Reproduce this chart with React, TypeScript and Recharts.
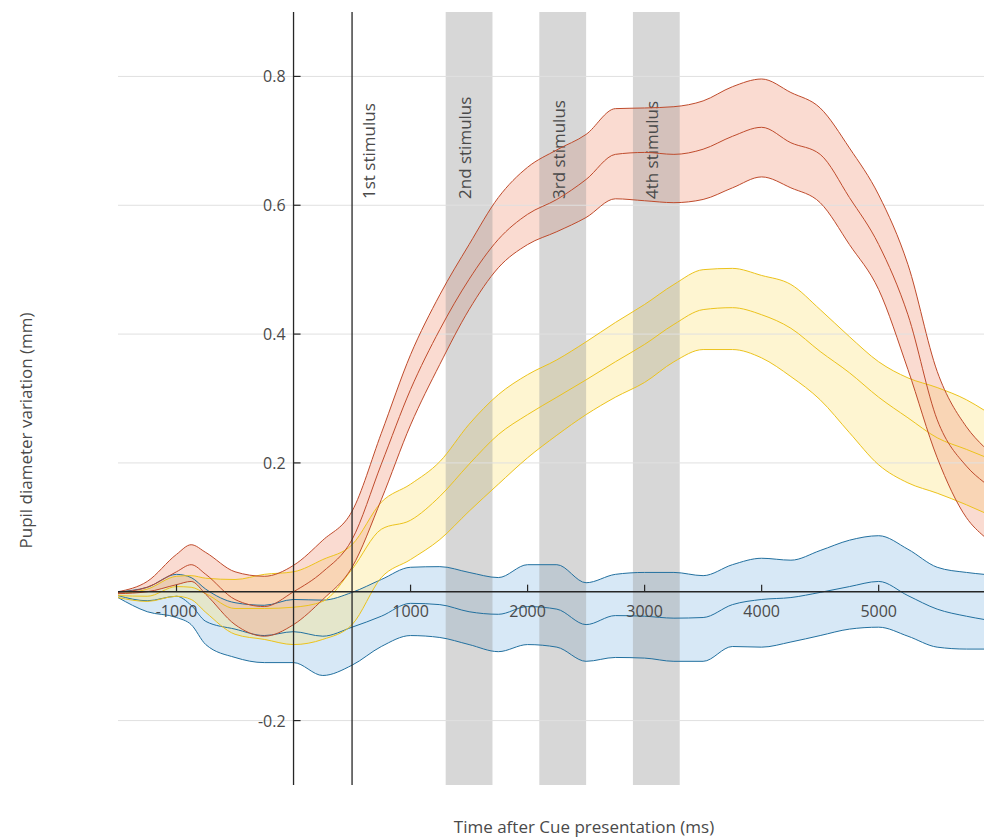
import React from 'react';
import {
  ComposedChart,
  Area,
  Line,
  XAxis,
  YAxis,
  ReferenceLine,
  ReferenceArea,
} from 'recharts';

// ---- data (ms after cue, pupil diameter variation in mm) ----
const timesMs = [
  -1500, -1250, -1000, -875, -750, -500, -250, 0, 250, 500, 750, 1000, 1250, 1500, 1750, 2000,
  2250, 2500, 2750, 3000, 3250, 3500, 3750, 4000, 4250, 4500, 4750, 5000, 5250, 5500, 5750, 5900,
];

const redUpper = [
  0.0, 0.016, 0.058, 0.073, 0.061, 0.031, 0.024, 0.041, 0.08, 0.125, 0.246, 0.368, 0.461, 0.539,
  0.612, 0.659, 0.686, 0.71, 0.75, 0.751, 0.753, 0.762, 0.784, 0.796, 0.775, 0.751, 0.689, 0.616,
  0.508, 0.342, 0.256, 0.225,
];
const redMean = [
  -0.001, 0.007, 0.031, 0.042, 0.027, -0.012, -0.023, 0.0, 0.031, 0.081, 0.198, 0.314, 0.407,
  0.485, 0.547, 0.586, 0.609, 0.64, 0.679, 0.682, 0.679, 0.687, 0.707, 0.721, 0.697, 0.679, 0.612,
  0.539, 0.43, 0.267, 0.195, 0.17,
];
const redLower = [
  -0.003, 0.0, 0.011, 0.016, -0.004, -0.051, -0.069, -0.051, -0.012, 0.038, 0.143, 0.259, 0.353,
  0.438, 0.503, 0.539, 0.559, 0.581, 0.61, 0.607, 0.604, 0.609, 0.627, 0.644, 0.627, 0.604, 0.539,
  0.469, 0.345, 0.208, 0.115, 0.086,
];

const yellowUpper = [
  -0.003, 0.004, 0.024, 0.025, 0.021, 0.019, 0.027, 0.031, 0.05, 0.073, 0.139, 0.167, 0.202,
  0.26, 0.306, 0.337, 0.36, 0.388, 0.418, 0.446, 0.477, 0.5, 0.502, 0.491, 0.477, 0.438, 0.396,
  0.357, 0.332, 0.317, 0.298, 0.282,
];
const yellowMean = [
  -0.006, -0.007, 0.008, 0.007, -0.003, -0.026, -0.026, -0.024, -0.015, 0.035, 0.097, 0.111,
  0.148, 0.198, 0.244, 0.275, 0.302, 0.329, 0.357, 0.384, 0.415, 0.438, 0.441, 0.43, 0.409, 0.373,
  0.34, 0.302, 0.27, 0.239, 0.221, 0.21,
];
const yellowLower = [
  -0.009, -0.015, -0.007, -0.012, -0.032, -0.066, -0.074, -0.082, -0.074, -0.051, 0.022, 0.05,
  0.081, 0.125, 0.167, 0.208, 0.243, 0.275, 0.302, 0.325, 0.357, 0.376, 0.376, 0.363, 0.334, 0.298,
  0.247, 0.197, 0.169, 0.153, 0.135, 0.123,
];

const blueUpper = [
  0.0, 0.007, 0.027, 0.022, 0.004, -0.017, -0.021, -0.012, -0.013, -0.001, 0.019, 0.038, 0.039,
  0.03, 0.022, 0.042, 0.042, 0.014, 0.027, 0.03, 0.03, 0.025, 0.042, 0.052, 0.049, 0.064, 0.08,
  0.087, 0.066, 0.038, 0.03, 0.027,
];
const blueMean = [
  -0.006, -0.014, -0.007, -0.021, -0.046, -0.058, -0.068, -0.062, -0.069, -0.055, -0.038, -0.018,
  -0.02, -0.031, -0.035, -0.023, -0.027, -0.051, -0.037, -0.038, -0.041, -0.04, -0.02, -0.012,
  -0.009, -0.001, 0.008, 0.016, -0.006, -0.027, -0.038, -0.043,
];
const blueLower = [
  -0.009, -0.031, -0.04, -0.051, -0.082, -0.102, -0.11, -0.11, -0.13, -0.114, -0.085, -0.068,
  -0.071, -0.082, -0.093, -0.082, -0.086, -0.108, -0.102, -0.103, -0.108, -0.108, -0.085, -0.086,
  -0.078, -0.068, -0.058, -0.055, -0.069, -0.086, -0.089, -0.089,
];

const xTickValues = [-1000, 1000, 2000, 3000, 4000, 5000];
const xTickLabels = ['-1000', '1000', '2000', '3000', '4000', '5000'];
const yTickValues = [-0.2, 0.2, 0.4, 0.6, 0.8];
const yTickLabels = ['-0.2', '0.2', '0.4', '0.6', '0.8'];

const firstStimulusMs = 500;
const firstStimulusLabel = '1st stimulus';
const bandStarts = [1300, 2100, 2900];
const bandEnds = [1700, 2500, 3300];
const bandLabels = ['2nd stimulus', '3rd stimulus', '4th stimulus'];

const xDomain = [-1500, 5900];
const yDomain = [-0.3, 0.9];
const xTitle = 'Time after Cue presentation (ms)';
const yTitle = 'Pupil diameter variation (mm)';

// ---- table for the library ----
const data = timesMs.map((t, i) => ({
  t,
  redRange: [redLower[i], redUpper[i]],
  yellowRange: [yellowLower[i], yellowUpper[i]],
  blueRange: [blueLower[i], blueUpper[i]],
  redUpper: redUpper[i],
  redMean: redMean[i],
  redLower: redLower[i],
  yellowUpper: yellowUpper[i],
  yellowMean: yellowMean[i],
  yellowLower: yellowLower[i],
  blueUpper: blueUpper[i],
  blueMean: blueMean[i],
  blueLower: blueLower[i],
}));

const FONT = "'Open Sans', 'Noto Sans', sans-serif";
const TEXT = '#4a4a4a';
const AXIS = '#262626';

const RED_LINE = '#bf4b2c';
const RED_FILL = '#f2a68d';
const YEL_LINE = '#ecc31c';
const YEL_FILL = '#fbe27a';
const BLUE_LINE = '#22709f';
const BLUE_FILL = '#9cc5e8';

const xTickLabel = (text: string) => (props: any) => {
  const vb = props.viewBox || {};
  const cx = vb.x + (vb.width || 0) / 2;
  const bottom = vb.y + (vb.height || 0);
  return (
    <text
      x={cx}
      y={bottom + 19}
      textAnchor="middle"
      dominantBaseline="central"
      style={{ fontFamily: FONT, fontSize: 16, fill: TEXT }}
    >
      {text}
    </text>
  );
};

const yTickLabel = (text: string) => (props: any) => {
  const vb = props.viewBox || {};
  return (
    <text
      x={vb.x - 8}
      y={vb.y}
      textAnchor="end"
      dominantBaseline="central"
      style={{ fontFamily: FONT, fontSize: 16, fill: TEXT }}
    >
      {text}
    </text>
  );
};

const stimulusLabel = (text: string, dx: number) => (props: any) => {
  const vb = props.viewBox || {};
  const x = vb.x + dx;
  const y = vb.y + 187;
  return (
    <text
      transform={`translate(${x}, ${y}) rotate(-90)`}
      textAnchor="start"
      dominantBaseline="central"
      style={{ fontFamily: FONT, fontSize: 17, fill: TEXT }}
    >
      {text}
    </text>
  );
};

const xTitleLabel = (props: any) => {
  const vb = props.viewBox || {};
  return (
    <text
      x={vb.x + 466}
      y={vb.y + 41}
      textAnchor="middle"
      dominantBaseline="central"
      style={{ fontFamily: FONT, fontSize: 17, fill: TEXT }}
    >
      {xTitle}
    </text>
  );
};

const yTitleLabel = (props: any) => {
  const vb = props.viewBox || {};
  const x = vb.x + 25;
  const y = vb.y + vb.height / 2 + 32;
  return (
    <text
      transform={`translate(${x}, ${y}) rotate(-90)`}
      textAnchor="middle"
      dominantBaseline="central"
      style={{ fontFamily: FONT, fontSize: 17, fill: TEXT }}
    >
      {yTitle}
    </text>
  );
};

const lineProps = {
  type: 'monotone' as const,
  strokeWidth: 1,
  dot: false,
  activeDot: false,
  isAnimationActive: false,
};

const fillProps = {
  type: 'monotone' as const,
  stroke: 'none',
  activeDot: false,
  isAnimationActive: false,
};

export default function App() {
  return (
    <div style={{ position: 'absolute', left: 0, top: 0, width: 984, height: 839, background: '#fff' }}>
      <ComposedChart
        width={984}
        height={839}
        data={data}
        margin={{ top: 12, right: 0, bottom: 0, left: 0 }}
      >
        <XAxis
          dataKey="t"
          type="number"
          domain={xDomain}
          allowDataOverflow
          height={54}
          tick={false}
          tickLine={false}
          axisLine={false}
          label={xTitleLabel}
        />
        <YAxis
          type="number"
          domain={yDomain}
          ticks={yTickValues}
          allowDataOverflow
          width={118}
          tick={false}
          tickLine={false}
          axisLine={false}
          label={yTitleLabel}
        />

        {yTickValues.map((v, i) => (
          <ReferenceLine key={`grid-${i}`} y={v} stroke="#e0e0e0" strokeWidth={1} />
        ))}

        <Area dataKey="blueRange" fill={BLUE_FILL} fillOpacity={0.4} {...fillProps} />
        <Area dataKey="yellowRange" fill={YEL_FILL} fillOpacity={0.35} {...fillProps} />
        <Area dataKey="redRange" fill={RED_FILL} fillOpacity={0.4} {...fillProps} />

        <Line dataKey="blueUpper" stroke={BLUE_LINE} {...lineProps} />
        <Line dataKey="blueMean" stroke={BLUE_LINE} {...lineProps} />
        <Line dataKey="blueLower" stroke={BLUE_LINE} {...lineProps} />
        <Line dataKey="yellowUpper" stroke={YEL_LINE} {...lineProps} />
        <Line dataKey="yellowMean" stroke={YEL_LINE} {...lineProps} />
        <Line dataKey="yellowLower" stroke={YEL_LINE} {...lineProps} />
        <Line dataKey="redUpper" stroke={RED_LINE} {...lineProps} />
        <Line dataKey="redMean" stroke={RED_LINE} {...lineProps} />
        <Line dataKey="redLower" stroke={RED_LINE} {...lineProps} />

        {bandStarts.map((s, i) => (
          <ReferenceArea
            key={`band-${i}`}
            x1={s}
            x2={bandEnds[i]}
            fill="#9a9a9a"
            fillOpacity={0.4}
            stroke="none"
            label={stimulusLabel(bandLabels[i], 19)}
          />
        ))}

        <ReferenceLine y={0} stroke={AXIS} strokeWidth={1.3} />
        <ReferenceLine x={0} stroke={AXIS} strokeWidth={1.3} />
        <ReferenceLine
          x={firstStimulusMs}
          stroke={AXIS}
          strokeWidth={1.3}
          label={stimulusLabel(firstStimulusLabel, 16)}
        />

        {xTickValues.map((v, i) => (
          <ReferenceLine
            key={`xt-${i}`}
            segment={[{ x: v, y: 0 }, { x: v, y: 0.011 }]}
            stroke={AXIS}
            strokeWidth={1.2}
            label={xTickLabel(xTickLabels[i])}
          />
        ))}
        {yTickValues.map((v, i) => (
          <ReferenceLine
            key={`yt-${i}`}
            segment={[{ x: 0, y: v }, { x: 60, y: v }]}
            stroke={AXIS}
            strokeWidth={1.2}
            label={yTickLabel(yTickLabels[i])}
          />
        ))}
      </ComposedChart>
    </div>
  );
}
